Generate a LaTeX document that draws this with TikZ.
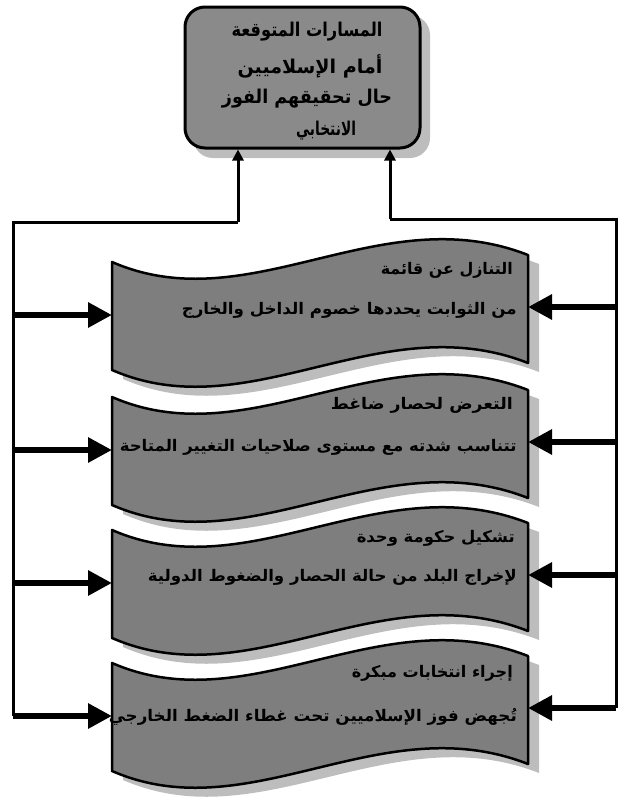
\documentclass[tikz,border=0pt]{standalone}
\usepackage{fontspec}
\usepackage{graphicx}
\usetikzlibrary{arrows.meta}
\TeXXeTstate=1
\newfontfamily\arabicfont[Script=Arabic]{DejaVu Sans}
\definecolor{boxgray}{HTML}{7E7E7E}
\definecolor{titlegray}{HTML}{8A8A8A}
\definecolor{shadegray}{HTML}{BDBDBD}
\newcommand\fitw[2]{\resizebox{#1}{\height}{#2}}
\tikzset{
  conn/.style={line width=3pt, line join=miter},
  upin/.style={line width=3pt, -{Triangle[length=11pt,width=11pt]}},
  bigarrow/.style={line width=6pt, -{Triangle[length=24pt,width=24pt]}},
  wavebox/.style={fill=boxgray, draw=black, line width=2.5pt, line join=round},
  waveshade/.style={fill=shadegray},
  htext/.style={anchor=east, font=\arabicfont\bfseries\fontsize{16}{18}\selectfont, inner sep=0pt},
  ttext/.style={font=\arabicfont\bfseries\fontsize{19}{22}\selectfont, inner sep=0pt}
}
\begin{document}
\begin{tikzpicture}[x=1pt,y=-1pt]
\useasboundingbox (0,0) rectangle (619,801);
% title shadow and box
\fill[shadegray, rounded corners=20pt] (193,15) rectangle (430,158);
\node[draw=black, fill=titlegray, line width=3pt, rounded corners=20pt,
      minimum width=235pt, minimum height=141pt, inner sep=0pt] (title) at (302.5,77.5) {};
\node[ttext] (tl1) at (307,32) {\fitw{151pt}{\beginR المسارات المتوقعة\endR}};
\node[ttext] (tl2) at (310,66) {\fitw{145pt}{\beginR أمام الإسلاميين\endR}};
\node[ttext] (tl3) at (307,99) {\fitw{170pt}{\beginR حال تحقيقهم الفوز\endR}};
\node[ttext] (tl4) at (326,131) {\fitw{60pt}{\beginR الانتخابي\endR}};
% wave boxes
\foreach \T/\n in {262/1,397/2,530/3,663/4}{
  \fill[waveshade, xshift=11pt, yshift=-9pt]
    (112,\T) .. controls (250,\T+60) and (380,\T-65) .. (528,\T-7)
    -- (528,\T+101) .. controls (380,\T+43) and (250,\T+168) .. (112,\T+108) -- cycle;
  \draw[wavebox]
    (112,\T) .. controls (250,\T+60) and (380,\T-65) .. (528,\T-7)
    -- (528,\T+101) .. controls (380,\T+43) and (250,\T+168) .. (112,\T+108) -- cycle;
  \coordinate (L\n) at (112,\T+53);
  \coordinate (R\n) at (528,\T+45);
}
\node[htext] (h1) at (513,270) {\fitw{132pt}{\beginR التنازل عن قائمة\endR}};
\node[htext] (s1) at (517,310) {\fitw{335pt}{\beginR من الثوابت يحددها خصوم الداخل والخارج\endR}};
\node[htext] (h2) at (513,405) {\fitw{182pt}{\beginR التعرض لحصار ضاغط\endR}};
\node[htext] (s2) at (517,447) {\fitw{397pt}{\beginR تتناسب شدته مع مستوى صلاحيات التغيير المتاحة\endR}};
\node[htext] (h3) at (515,538) {\fitw{158pt}{\beginR تشكيل حكومة وحدة\endR}};
\node[htext] (s3) at (517,577) {\fitw{369pt}{\beginR لإخراج البلد من حالة الحصار والضغوط الدولية\endR}};
\node[htext] (h4) at (513,673) {\fitw{161pt}{\beginR إجراء انتخابات مبكرة\endR}};
\node[htext] (s4) at (517,717) {\fitw{408pt}{\beginR تُجهض فوز الإسلاميين تحت غطاء الضغط الخارجي\endR}};
% left trunk
\coordinate (lt) at (238,222);
\coordinate (lc) at (13,222);
\draw[conn] (lt) -- (lc) -- (lc |- L4);
\draw[upin] (lt) -- (lt |- title.south);
% right trunk
\coordinate (rt) at (390,219);
\coordinate (rc) at (616,219);
\draw[conn] (rt) -- (rc) -- (rc |- R4);
\draw[upin] (rt) -- (rt |- title.south);
% arrows into boxes
\foreach \n in {1,2,3,4}{
  \draw[bigarrow] (lc |- L\n) -- (L\n);
  \draw[bigarrow] (rc |- R\n) -- (R\n);
}
\end{tikzpicture}
\end{document}
